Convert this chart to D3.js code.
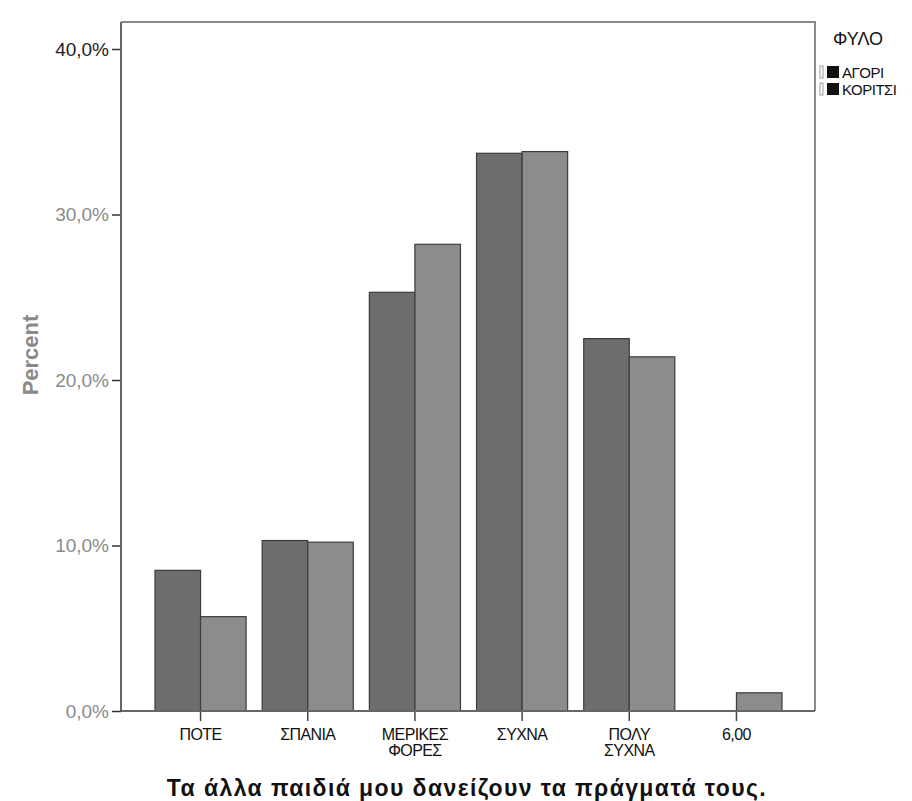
<!DOCTYPE html>
<html>
<head>
<meta charset="utf-8">
<script src="https://cdn.jsdelivr.net/npm/d3@7"></script>
<style>
  body { margin: 0; background: #fff; }
  text { font-family: "Liberation Sans", Arial, sans-serif; }
</style>
</head>
<body>
<svg width="912" height="801"></svg>
<script>
// answers (x axis) and the two groups of the legend
const categories = ["ΠΟΤΕ", "ΣΠΑΝΙΑ", "ΜΕΡΙΚΕΣ ΦΟΡΕΣ", "ΣΥΧΝΑ", "ΠΟΛΥ ΣΥΧΝΑ", "6,00"];
const series = ["ΑΓΟΡΙ", "ΚΟΡΙΤΣΙ"];
const boys = [8.5, 10.3, 25.3, 33.7, 22.5, 0];
const girls = [5.7, 10.2, 28.2, 33.8, 21.4, 1.1];
const yTicks = [0, 10, 20, 30, 40];

const svg = d3.select("svg");
const plotL = 121, plotR = 815, plotT = 22, base = 711;

const y = d3.scaleLinear().domain([0, 40]).range([base, 49]);
const x = d3.scaleBand().domain(categories).range([155, 782]).paddingInner(0.15);
const xs = d3.scaleBand().domain(series).range([0, x.bandwidth()]);
const fill = d3.scaleOrdinal().domain(series).range(["#6d6d6d", "#8c8c8c"]);

const rows = categories.map((c, i) => ({cat: c, vals: [boys[i], girls[i]]}));

// frame
svg.append("path")
   .attr("d", `M${plotL},${plotT}H${plotR}V${base}`)
   .attr("fill", "none")
   .attr("stroke", "#8a8a8a")
   .attr("stroke-width", 2);

// bars
svg.append("g")
   .selectAll("g")
   .data(rows)
   .enter()
   .append("g")
     .attr("transform", d => `translate(${x(d.cat)},0)`)
   .selectAll("rect")
   .data(d => d.vals.map((v, j) => ({key: series[j], v})).filter(e => e.v > 0))
   .enter()
   .append("rect")
     .attr("x", d => xs(d.key))
     .attr("y", d => y(d.v))
     .attr("width", xs.bandwidth())
     .attr("height", d => base - y(d.v))
     .attr("fill", d => fill(d.key))
     .attr("stroke", "#3c3c3c")
     .attr("stroke-width", 1.2);

// y axis
const yAxis = svg.append("g")
   .attr("transform", `translate(${plotL},0)`)
   .call(d3.axisLeft(y).tickValues(yTicks).tickSize(9).tickPadding(3)
           .tickFormat(d => d.toFixed(1).replace(".", ",") + "%"));
yAxis.select(".domain").remove();
yAxis.selectAll("line").attr("stroke", "#333").attr("stroke-width", 1.5);
yAxis.selectAll("text")
     .attr("font-size", 19)
     .attr("fill", d => d === 40 ? "#222" : "#8a8a8a");
svg.append("line")
   .attr("x1", plotL).attr("x2", plotL)
   .attr("y1", plotT).attr("y2", base)
   .attr("stroke", "#666").attr("stroke-width", 2);

// x axis
const xAxis = svg.append("g")
   .attr("transform", `translate(0,${base})`)
   .call(d3.axisBottom(x).tickSize(10).tickPadding(8));
xAxis.select(".domain").remove();
xAxis.selectAll("line").attr("stroke", "#444").attr("stroke-width", 1.5);
xAxis.selectAll("text")
     .attr("font-size", 16)
     .attr("letter-spacing", "-0.6px")
     .attr("fill", "#111")
     .text(null)
     .each(function(d) {
       const parts = d.split(" ");
       d3.select(this).selectAll("tspan")
         .data(parts)
         .enter()
         .append("tspan")
           .attr("x", 0)
           .attr("dy", (p, i) => i === 0 ? "0.71em" : "1em")
           .text(p => p);
     });
svg.append("line")
   .attr("x1", plotL).attr("x2", plotR)
   .attr("y1", base).attr("y2", base)
   .attr("stroke", "#666").attr("stroke-width", 2);

// titles
svg.append("text")
   .attr("x", 467)
   .attr("y", 796)
   .attr("text-anchor", "middle")
   .attr("font-size", 23)
   .attr("letter-spacing", "1.4px")
   .attr("font-weight", "bold")
   .attr("fill", "#111")
   .text("Τα άλλα παιδιά μου δανείζουν τα πράγματά τους.");

svg.append("text")
   .attr("transform", "translate(38,355) rotate(-90)")
   .attr("text-anchor", "middle")
   .attr("font-size", 22)
   .attr("font-weight", "bold")
   .attr("fill", "#8a8a8a")
   .text("Percent");

// legend
const legend = svg.append("g").attr("transform", "translate(820,0)");
legend.append("text")
      .attr("x", 13).attr("y", 45)
      .attr("font-size", 18)
      .attr("fill", "#111")
      .text("ΦΥΛΟ");
const item = legend.selectAll(".item")
      .data(series)
      .enter()
      .append("g")
        .attr("class", "item")
        .attr("transform", (d, i) => `translate(0,${66 + i * 17})`);
item.append("rect")
    .attr("x", 0).attr("y", 0).attr("width", 3).attr("height", 12)
    .attr("fill", "#fff").attr("stroke", "#999");
item.append("rect")
    .attr("x", 7).attr("y", 0).attr("width", 12).attr("height", 12)
    .attr("fill", "#111");
item.append("text")
    .attr("x", 22).attr("y", 11.5)
    .attr("font-size", 15)
    .attr("letter-spacing", "-0.5px")
    .attr("fill", "#111")
    .text(d => d);
</script>
</body>
</html>
